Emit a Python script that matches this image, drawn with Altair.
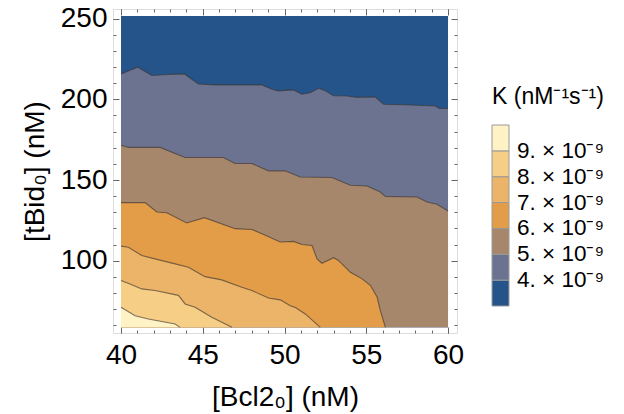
import altair as alt
import pandas as pd

# ---- data (K in units of 1e-9 nM^-1 s^-1) ----
X_MIN, X_MAX = 40, 60
Y_MIN, Y_MAX = 58.8, 251.6

levels = [4, 5, 6, 7, 8, 9]
level_labels = ["4", "5", "6", "7", "8", "9"]
band_values = [3.5, 4.5, 5.5, 6.5, 7.5, 8.5, 9.5]
band_colors = ["#24548a", "#6c7391", "#a6876c", "#e39d49", "#ecb468", "#f6ce86", "#fff3c5"]

c4_x = [40, 41.02, 41.88, 42.9, 43.88, 44.73, 45.76, 46.78, 48.62, 49.23, 49.63, 50.55, 51.07,
        51.57, 52.08, 52.49, 53.0, 53.82, 54.43, 55.55, 56.06, 57.7, 59.23, 59.45, 60]
c4_y = [215.7, 219.9, 214.7, 215.3, 215.7, 209.5, 208.9, 208.9, 208.9, 206.2, 205.2, 205.8, 203.1,
        204.1, 206.8, 205.3, 202.2, 202.0, 201.2, 201.4, 196.9, 196.5, 195.8, 194.4, 194.3]

c5_x = [40, 40.45, 42.39, 43.92, 46.26, 46.98, 48.0, 49.02, 50.04, 50.96, 52.9, 54.03, 55.05,
        55.86, 56.17, 58.1, 58.72, 59.33, 60]
c5_y = [171.6, 170.2, 170.2, 164.0, 164.0, 160.2, 160.2, 155.7, 155.7, 151.9, 151.6, 146.8, 146.3,
        142.6, 139.9, 139.5, 136.4, 135.0, 130.8]

c6_x = [40, 41.47, 42.19, 42.8, 44.02, 45.1, 46.98, 48.0, 48.62, 49.74, 50.55, 51.07, 51.68,
        51.99, 52.29, 53.0, 53.3, 54.03, 54.75, 55.26, 55.67, 55.86, 56.17]
c6_y = [136.0, 136.0, 130.2, 129.8, 123.4, 126.7, 119.9, 119.4, 116.8, 111.6, 112.0, 110.1, 109.5,
        101.2, 98.5, 101.9, 100.2, 92.9, 88.8, 84.7, 77.4, 69.1, 58.8]

c7_x = [40, 40.45, 41.27, 42.08, 43.31, 44.12, 45.14, 46.16, 47.39, 48.0, 49.02, 49.74, 50.35,
        50.66, 51.27, 52.19]
c7_y = [109.1, 108.4, 103.3, 101.2, 98.1, 96.0, 90.2, 88.2, 83.6, 81.6, 77.0, 75.8, 72.2,
        71.1, 67.1, 58.8]

c8_x = [40, 40.55, 41.27, 42.08, 43.51, 43.92, 44.53, 45.55, 46.78]
c8_y = [87.8, 85.7, 82.6, 81.6, 78.6, 73.3, 71.2, 65.0, 58.8]

c9_x = [40, 40.86, 41.67, 43.31, 43.61]
c9_y = [71.2, 66.0, 64.0, 60.9, 58.8]

contours = [(c4_x, c4_y), (c5_x, c5_y), (c6_x, c6_y), (c7_x, c7_y), (c8_x, c8_y), (c9_x, c9_y)]

x_ticks_major = [40, 45, 50, 55, 60]
x_ticks_minor = list(range(40, 61))
y_ticks_major = [100, 150, 200, 250]
y_ticks_minor = list(range(60, 251, 10))

FONT = "Liberation Sans"

# ---- scales ----
xs = alt.Scale(domain=[39.51, 60.55], nice=False, zero=False)
ys = alt.Scale(domain=[55.3, 255.9], nice=False, zero=False)
cs = alt.Scale(type="threshold", domain=levels, range=band_colors)

label_list = "[" + ",".join("'" + s + "'" for s in level_labels) + "]"
legend = alt.Legend(
    type="gradient", orient="none", legendX=379, legendY=77, direction="vertical",
    gradientLength=181, gradientThickness=17, gradientStrokeColor="#999999", gradientStrokeWidth=1,
    title="K (nM⁻¹s⁻¹)", titleFontSize=23, titleFontWeight="normal", titleColor="black",
    titleAnchor="middle", titlePadding=16, titleFont=FONT,
    labelFontSize=22.5, labelColor="black", labelOffset=8, labelFont=FONT, labelOverlap=False,
    labelExpr="indexof(" + label_list + ", '' + datum.label) >= 0 ? datum.label + '. × 10⁻⁹' : ''",
    padding=0,
)

layers = []

# background band (lowest level)
bg = pd.DataFrame({"x": [X_MIN, X_MAX], "y": [Y_MAX, Y_MAX], "base": [Y_MIN, Y_MIN],
                   "K": [band_values[0]] * 2})
layers.append(
    alt.Chart(bg).mark_area().encode(
        x=alt.X("x:Q", scale=xs, axis=None),
        y=alt.Y("y:Q", scale=ys, axis=None),
        y2="base:Q",
        color=alt.Color("K:Q", scale=cs, legend=legend),
    )
)

for i, (cx, cy) in enumerate(contours):
    df = pd.DataFrame({"x": cx, "y": cy, "base": [Y_MIN] * len(cx), "K": [band_values[i + 1]] * len(cx)})
    layers.append(
        alt.Chart(df).mark_area().encode(
            x=alt.X("x:Q", scale=xs, axis=None),
            y=alt.Y("y:Q", scale=ys, axis=None),
            y2="base:Q",
            color=alt.Color("K:Q", scale=cs, legend=legend),
        )
    )

for cx, cy in contours:
    df = pd.DataFrame({"x": cx, "y": cy})
    layers.append(
        alt.Chart(df).mark_line(color="#3d3630", strokeWidth=1.1, opacity=0.65).encode(
            x=alt.X("x:Q", scale=xs, axis=None),
            y=alt.Y("y:Q", scale=ys, axis=None),
        )
    )


def axis_layer(x_axis, y_axis):
    df = pd.DataFrame({"x": [50], "y": [150]})
    return alt.Chart(df).mark_point(opacity=0).encode(
        x=alt.X("x:Q", scale=xs, axis=x_axis),
        y=alt.Y("y:Q", scale=ys, axis=y_axis),
    )


common = dict(domain=False, grid=False, tickColor="#666666", tickWidth=1, labelFlush=False)

x_bottom_major = alt.Axis(orient="bottom", values=x_ticks_major, offset=-6, tickSize=6,
                          labelFontSize=28, labelFont=FONT, labelColor="black", labelPadding=8,
                          format="d", title="[Bcl2₀] (nM)", titleFontSize=28, titleFont=FONT,
                          titleFontWeight="normal", titleColor="black", titlePadding=14, **common)
x_bottom_minor = alt.Axis(orient="bottom", values=x_ticks_minor, offset=-3, tickSize=3,
                          labels=False, title=None, **common)
x_top_major = alt.Axis(orient="top", values=x_ticks_major, offset=-6, tickSize=6,
                       labels=False, title=None, **common)
x_top_minor = alt.Axis(orient="top", values=x_ticks_minor, offset=-3, tickSize=3,
                       labels=False, title=None, **common)

y_left_major = alt.Axis(orient="left", values=y_ticks_major, offset=-6, tickSize=6,
                        labelFontSize=28, labelFont=FONT, labelColor="black", labelPadding=6,
                        format="d", title="[tBid₀] (nM)", titleFontSize=28, titleFont=FONT,
                        titleFontWeight="normal", titleColor="black", titlePadding=11, **common)
y_left_minor = alt.Axis(orient="left", values=y_ticks_minor, offset=-3, tickSize=3,
                        labels=False, title=None, **common)
y_right_major = alt.Axis(orient="right", values=y_ticks_major, offset=-6, tickSize=6,
                         labels=False, title=None, **common)
y_right_minor = alt.Axis(orient="right", values=y_ticks_minor, offset=-3, tickSize=3,
                         labels=False, title=None, **common)

layers.append(axis_layer(x_bottom_major, y_left_major))
layers.append(axis_layer(x_bottom_minor, y_left_minor))
layers.append(axis_layer(x_top_major, y_right_major))
layers.append(axis_layer(x_top_minor, y_right_minor))

chart = (
    alt.layer(*layers)
    .resolve_axis(x="independent", y="independent")
    .properties(
        width=344, height=324,
        padding={"left": 113, "top": 9, "right": 167, "bottom": 81},
        autosize=alt.AutoSizeParams(type="none"),
        background="white",
    )
    .configure_view(stroke="black", strokeWidth=2.5)
    .configure(font=FONT)
)

chart.save("out.html", embed_options={"renderer": "svg", "actions": False})
